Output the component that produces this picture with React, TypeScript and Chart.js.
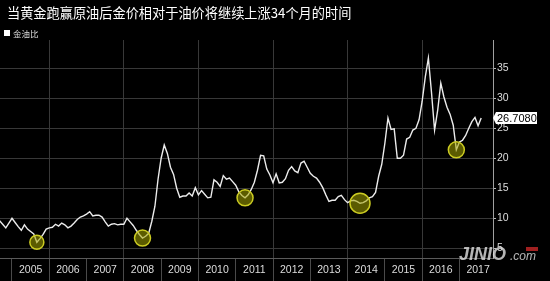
import React, { useEffect, useRef } from "react";
import { Chart, registerables } from "chart.js";

Chart.register(...registerables);

const titleText = "当黄金跑赢原油后金价相对于油价将继续上涨34个月的时间";
const seriesName = "金油比";
const startYear = 2004;
const startMonth = 9;

// monthly gold/oil ratio, Sep 2004 .. Aug 2017
const ratioValues = [
  9.6, 9.0, 8.4, 9.2,
  10.0, 9.3, 8.6, 8.0, 8.9, 8.2, 7.8, 7.4, 6.0, 6.6, 7.3, 8.2,
  8.4, 8.5, 9.0, 8.7, 9.2, 8.9, 8.4, 8.7, 9.2, 9.8, 10.2, 10.4,
  10.7, 11.1, 10.4, 10.5, 10.5, 10.2, 9.4, 8.7, 9.0, 9.1, 8.9, 9.0,
  9.0, 10.0, 9.4, 8.8, 8.0, 7.3, 6.7, 7.0, 7.5, 9.5, 12.0, 16.5,
  20.0, 22.2, 20.8, 18.5, 17.3, 15.0, 13.5, 13.7, 13.7, 14.2, 13.7, 15.1,
  13.9, 14.6, 14.0, 13.4, 13.5, 16.4, 16.0, 15.3, 17.1, 16.5, 16.7, 16.1,
  15.5, 14.4, 13.8, 13.4, 13.9, 14.8, 16.0, 18.0, 20.5, 20.4, 18.2, 17.2,
  15.9, 17.4, 15.9, 16.0, 16.6, 18.0, 18.6, 17.9, 17.6, 19.2, 19.5, 18.5,
  17.5, 17.0, 16.7, 16.0, 15.1, 13.9, 12.8, 13.0, 13.0, 13.6, 13.8, 13.1,
  12.6, 12.9, 13.0, 12.8, 12.5, 12.6, 12.9, 13.4, 13.6, 14.3, 17.0, 19.0,
  22.5, 26.7, 24.8, 24.9, 20.0, 20.0, 20.5, 23.2, 23.5, 24.7, 25.0, 26.4,
  29.5, 33.5, 36.7, 31.0, 24.7, 28.0, 32.5, 30.2, 28.5, 27.3, 25.5, 21.4,
  22.7, 23.0, 23.8, 25.0, 26.1, 26.8, 25.4, 26.708,
];

const yearLabels = [
  "2005", "2006", "2007", "2008", "2009", "2010", "2011",
  "2012", "2013", "2014", "2015", "2016", "2017",
];
const yTickValues = [5, 10, 15, 20, 25, 30, 35];
// indices (into ratioValues) of the highlighted troughs
const highlightIdx = [12, 46, 79, 116, 147];

const monthX = (i: number) => (startYear - 2005) * 12 + (startMonth - 1) + i;

const FONT = "'Liberation Sans', 'Noto Sans', sans-serif";
const CJK = "'Noto Sans CJK SC', 'Noto Sans', sans-serif";

const decorPlugin = {
  id: "decor",
  afterDraw(chart: any) {
    const ctx = chart.ctx;
    const ys = chart.scales.y;
    ctx.save();
    // title
    ctx.fillStyle = "#ffffff";
    ctx.font = `13.2px ${CJK}`;
    ctx.textBaseline = "middle";
    ctx.textAlign = "left";
    ctx.fillText(titleText, 7, 13);
    // legend
    ctx.fillStyle = "#ffffff";
    ctx.fillRect(4, 30, 6, 6);
    ctx.fillStyle = "#dddddd";
    ctx.font = `8.5px ${CJK}`;
    ctx.fillText(seriesName, 13, 33.5);
    // watermark
    ctx.fillStyle = "rgba(225,225,225,0.8)";
    ctx.font = `italic bold 18px ${FONT}`;
    ctx.textBaseline = "alphabetic";
    ctx.fillText("JINIO", 459, 260);
    ctx.font = `italic 12px ${FONT}`;
    ctx.fillText(".com", 510, 260);
    ctx.fillStyle = "rgba(200,40,40,0.8)";
    ctx.fillRect(526, 247, 12, 4);
    // last value label
    const last = ratioValues[ratioValues.length - 1];
    const py = ys.getPixelForValue(last);
    const bx = chart.chartArea.right + 3;
    ctx.fillStyle = "#ffffff";
    ctx.beginPath();
    ctx.moveTo(bx - 3, py);
    ctx.lineTo(bx, py - 6);
    ctx.lineTo(bx + 41, py - 6);
    ctx.lineTo(bx + 41, py + 6);
    ctx.lineTo(bx, py + 6);
    ctx.closePath();
    ctx.fill();
    ctx.fillStyle = "#000000";
    ctx.font = `11px ${FONT}`;
    ctx.textBaseline = "middle";
    ctx.fillText(last.toFixed(4), bx + 1, py + 0.5);
    ctx.restore();
  },
};

export default function App() {
  const ref = useRef<HTMLCanvasElement | null>(null);
  useEffect(() => {
    document.body.style.margin = "0";
    document.body.style.background = "#000";
    const canvas = ref.current;
    if (!canvas) return;
    const lineData = ratioValues.map((v, i) => ({ x: monthX(i), y: v }));
    const hlData = highlightIdx.map((i) => ({ x: monthX(i), y: ratioValues[i] }));
    const chart = new Chart(canvas, {
      type: "line",
      data: {
        datasets: [
          {
            label: "highlight",
            type: "scatter",
            data: hlData,
            pointRadius: [7, 8, 8, 10, 8],
            pointHoverRadius: [7, 8, 8, 10, 8],
            pointBackgroundColor: "rgba(165,165,0,0.55)",
            pointBorderColor: "#cccc22",
            pointBorderWidth: 1.5,
            order: 0,
          } as any,
          {
            label: seriesName,
            data: lineData,
            borderColor: "#ececec",
            backgroundColor: "#ffffff",
            borderWidth: 1.4,
            pointRadius: 0,
            tension: 0,
            order: 1,
          },
        ],
      },
      options: {
        responsive: false,
        animation: false,
        layout: { autoPadding: false, padding: { top: 40, left: 0, right: 0, bottom: 0 } },
        plugins: {
          legend: { display: false },
          title: { display: false },
          tooltip: { enabled: false },
        },
        scales: {
          x: {
            type: "linear",
            min: -3.86,
            max: 154.8,
            afterBuildTicks: (s: any) => {
              s.ticks = yearLabels.map((_, k) => ({ value: k * 12 }));
            },
            afterFit: (s: any) => {
              s.height = 23;
              s.paddingLeft = 0;
              s.paddingRight = 0;
            },
            grid: {
              color: (c: any) =>
                c.tick && Math.round(c.tick.value / 12) % 2 === 1 ? "#383838" : "rgba(0,0,0,0)",
              tickColor: "#4a4a4a",
              tickLength: 23,
              drawTicks: true,
            },
            border: { display: true, color: "#5a5a5a" },
            ticks: {
              color: "#dddddd",
              font: { size: 10.5, family: FONT },
              labelOffset: 18.65,
              padding: -17,
              maxRotation: 0,
              autoSkip: false,
              callback: (v: any) => yearLabels[Math.round(Number(v) / 12)] ?? "",
            },
          },
          y: {
            position: "right",
            min: 3.38,
            max: 39.7,
            afterBuildTicks: (s: any) => {
              s.ticks = yTickValues.map((v) => ({ value: v }));
            },
            afterFit: (s: any) => {
              s.width = 57;
              s.paddingTop = 0;
              s.paddingBottom = 0;
            },
            grid: {
              color: "#383838",
              tickColor: "#bbbbbb",
              tickLength: 3,
            },
            border: { display: true, color: "#a0a0a0" },
            ticks: {
              color: "#dddddd",
              font: { size: 10.5, family: FONT },
              padding: 1,
            },
          },
        },
      },
      plugins: [decorPlugin],
    });
    return () => chart.destroy();
  }, []);
  return (
    <div style={{ width: 550, height: 281, background: "#000" }}>
      <canvas ref={ref} width={550} height={281} />
    </div>
  );
}
